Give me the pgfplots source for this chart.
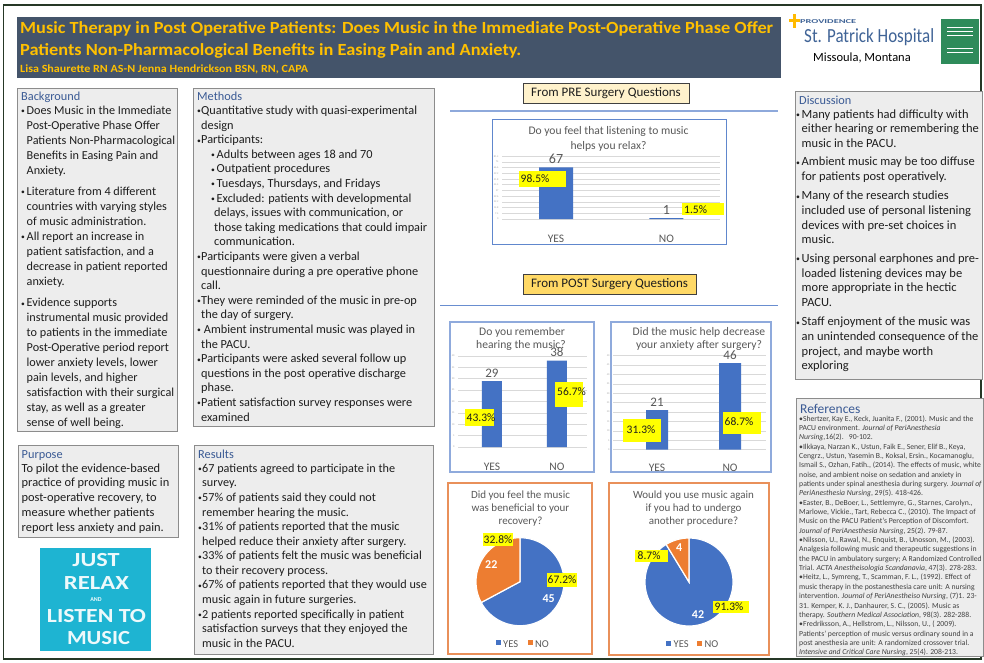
\documentclass[border=0pt]{standalone}
\usepackage{pgfplots}
\pgfplotsset{compat=1.18}
\usepackage{fontspec}
\setmainfont{Carlito}
\usepackage{graphicx}

\definecolor{banner}{HTML}{44546A}
\definecolor{titley}{HTML}{FFC000}
\definecolor{boxfill}{HTML}{EDEDED}
\definecolor{boxline}{HTML}{8C8C8C}
\definecolor{head}{HTML}{3A5A94}
\definecolor{xblue}{HTML}{4472C4}
\definecolor{xorange}{HTML}{ED7D31}
\definecolor{chartline}{HTML}{8FAADC}
\definecolor{pieline}{HTML}{E9905A}
\definecolor{gtext}{HTML}{595959}
\definecolor{gridc}{HTML}{D9D9D9}
\definecolor{txt}{HTML}{1E1E1E}
\definecolor{framec}{HTML}{263826}
\definecolor{hilite}{HTML}{FFFF00}
\definecolor{prebox}{HTML}{FFF2CC}
\definecolor{postbox}{HTML}{FFD966}
\definecolor{relax}{HTML}{1EB4D2}
\definecolor{stpat}{HTML}{3F6396}
\definecolor{logogreen}{HTML}{2E8B5A}
\definecolor{sepblue}{HTML}{8EA9DB}

\newcommand\fs[2]{\fontsize{#1}{#2}\selectfont}
\newcommand\bdot{\raisebox{0.6pt}{\scalebox{0.62}{•}}}
\newcommand\bl{\makebox[5.5pt][l]{\bdot}}
\newcommand\ii{\hspace*{5.5pt}}
\newcommand\mb{\makebox[4pt][l]{\bdot}}
\newcommand\mi{\hspace*{4pt}}
\newcommand\subb{\hspace*{14pt}\makebox[5.5pt][l]{\bdot}}
\newcommand\subi{\hspace*{17pt}}

% pie data
\pgfmathsetmacro\pAyes{45}\pgfmathsetmacro\pAno{22}
\pgfmathsetmacro\angAy{360*\pAyes/(\pAyes+\pAno)}
\pgfmathsetmacro\angAn{360*\pAno/(\pAyes+\pAno)}
\pgfmathsetmacro\pByes{42}\pgfmathsetmacro\pBno{4}
\pgfmathsetmacro\angBy{360*\pByes/(\pByes+\pBno)}
\pgfmathsetmacro\angBn{360*\pBno/(\pByes+\pBno)}

\pgfplotsset{
  mybars/.style={
    scale only axis, ybar, ymin=0, enlargelimits=false, clip=false,
    axis line style={draw=none}, major tick style={draw=none},
    ymajorgrids, grid style={draw=gridc, line width=0.7pt},
    xtick={0,1}, xticklabels={YES,NO},
    xticklabel style={font=\fs{11.5}{12}, text=gtext, anchor=center},
    yticklabel style={font=\fs{2.6}{3}, text=gray!70},
    /pgf/number format/assume math mode=true,
    nodes near coords,
    nodes near coords style={font=\fs{13}{13}, text=gtext},
  },
  mypie/.style={
    scale only axis, width=88pt, height=88pt, anchor=center,
    xmin=-1, xmax=1, ymin=-1, ymax=1, hide axis, clip=false,
  },
}

\begin{document}
\begin{tikzpicture}[x=1pt,y=1pt]
\path[use as bounding box] (0,0) rectangle (984,-662);
\fill[white] (0,0) rectangle (984,-662);
\draw[framec, line width=1.3pt] (3.5,-5) rectangle (981,-659);

% ---------- banner ----------
\fill[banner] (17,-17) rectangle (781,-78);
\node[anchor=base west, inner sep=0, text=titley, font=\bfseries\fs{17}{20}] at (20,-33)
  {\resizebox{753pt}{\height}{Music Therapy in Post Operative Patients: Does Music in the Immediate Post-Operative Phase Offer}};
\node[anchor=base west, inner sep=0, text=titley, font=\bfseries\fs{17}{20}] at (20,-55)
  {\resizebox{501pt}{\height}{Patients Non-Pharmacological Benefits in Easing Pain and Anxiety.}};
\node[anchor=base west, inner sep=0, text=titley, font=\bfseries\fs{11}{12}] at (20,-72)
  {\resizebox{288pt}{\height}{Lisa Shaurette RN AS-N Jenna Hendrickson BSN, RN, CAPA}};

% ---------- logo ----------
\fill[titley!90!orange] (789,-19) rectangle (800,-22);
\fill[titley!90!orange] (793,-14) rectangle (796,-28);
\node[anchor=base west, inner sep=0, text=stpat, font=\bfseries\fs{6}{6}] at (800,-23)
  {\resizebox{56pt}{\height}{PROVIDENCE}};
\node[anchor=base west, inner sep=0, text=stpat, font=\fs{20}{20}] at (804,-42)
  {\resizebox{130pt}{\height}{St. Patrick Hospital}};
\node[anchor=base, inner sep=0, text=black, font=\fs{12.5}{13}] at (862,-61) {Missoula, Montana};
\fill[logogreen] (941,-19) rectangle (979,-64);
\foreach \yy in {27,31,35,48,52}{\draw[white, line width=0.6pt] (947,-\yy) -- (973,-\yy);}

% ---------- text boxes ----------
\filldraw[fill=boxfill, draw=boxline, line width=0.8pt] (17,-88) rectangle (177,-431);
\filldraw[fill=boxfill, draw=boxline, line width=0.8pt] (193,-88) rectangle (434,-426);
\filldraw[fill=boxfill, draw=boxline, line width=0.8pt] (18,-445) rectangle (178,-537);
\filldraw[fill=boxfill, draw=boxline, line width=0.8pt] (194,-445) rectangle (433,-654);
\filldraw[fill=boxfill, draw=boxline, line width=0.8pt] (795,-91) rectangle (982.5,-379);
\filldraw[fill=boxfill, draw=boxline, line width=0.8pt] (796.5,-398) rectangle (983,-656);

% headings
\node[anchor=base west, inner sep=0, text=head, font=\fs{12.3}{13}] at (21,-100) {Background};
\node[anchor=base west, inner sep=0, text=head, font=\fs{12.3}{13}] at (197,-100) {Methods};
\node[anchor=base west, inner sep=0, text=head, font=\fs{12.3}{13}] at (21.5,-458) {Purpose};
\node[anchor=base west, inner sep=0, text=head, font=\fs{12.3}{13}] at (198,-458) {Results};
\node[anchor=base west, inner sep=0, text=head, font=\fs{12.3}{13}] at (799,-104) {Discussion};
\node[anchor=base west, inner sep=0, text=head, font=\fs{13.5}{14}] at (800,-413) {References};

% Background
\node[anchor=base west, inner sep=0, text=txt] at (21,-114) {\parbox[t]{300pt}{\fs{12.2}{15}\raggedright
\bl Does Music in the Immediate\\\ii Post-Operative Phase Offer\\\ii Patients Non-Pharmacological\\\ii Benefits in Easing Pain and\\\ii Anxiety.\\[6.5pt]
\bl Literature from 4 different\\\ii countries with varying styles\\\ii of music administration.\\
\bl All report an increase in\\\ii patient satisfaction, and a\\\ii decrease in patient reported\\\ii anxiety.\\[6.3pt]
\bl Evidence supports\\\ii instrumental music provided\\\ii to patients in the immediate\\\ii Post-Operative period report\\\ii lower anxiety levels, lower\\\ii pain levels, and higher\\\ii satisfaction with their surgical\\\ii stay, as well as a greater\\\ii sense of well being.}};

% Methods
\node[anchor=base west, inner sep=0, text=txt] at (197,-114.5) {\parbox[t]{300pt}{\fs{12.3}{14.6}\raggedright
\mb Quantitative study with quasi-experimental\\\mi design\\
\mb Participants:\\
\subb Adults between ages 18 and 70\\
\subb Outpatient procedures\\
\subb Tuesdays, Thursdays, and Fridays\\
\subb Excluded: patients with developmental\\\subi delays, issues with communication, or\\\subi those taking medications that could impair\\\subi communication.\\
\mb Participants were given a verbal\\\mi questionnaire during a pre operative phone\\\mi call.\\
\mb They were reminded of the music in pre-op\\\mi the day of surgery.\\
\mb\ Ambient instrumental music was played in\\\mi the PACU.\\
\mb Participants were asked several follow up\\\mi questions in the post operative discharge\\\mi phase.\\
\mb Patient satisfaction survey responses were\\\mi examined}};

% Purpose
\node[anchor=base west, inner sep=0, text=txt] at (21.5,-472) {\parbox[t]{300pt}{\fs{12.4}{14.75}\raggedright
To pilot the evidence-based\\practice of providing music in\\post-operative recovery, to\\measure whether patients\\report less anxiety and pain.}};

% Results
\node[anchor=base west, inner sep=0, text=txt] at (198,-472.3) {\parbox[t]{300pt}{\fs{12.2}{14.58}\raggedright
\mb 67 patients agreed to participate in the\\\mi survey.\\
\mb 57\% of patients said they could not\\\mi remember hearing the music.\\
\mb 31\% of patients reported that the music\\\mi helped reduce their anxiety after surgery.\\
\mb 33\% of patients felt the music was beneficial\\\mi to their recovery process.\\
\mb 67\% of patients reported that they would use\\\mi music again in future surgeries.\\
\mb 2 patients reported specifically in patient\\\mi satisfaction surveys that they enjoyed the\\\mi music in the PACU.}};

% Discussion
\node[anchor=base west, inner sep=0, text=txt] at (796,-118) {\parbox[t]{300pt}{\fs{12.5}{14.65}\raggedright
\bl Many patients had difficulty with\\\ii either hearing or remembering the\\\ii music in the PACU.\\[4pt]
\bl Ambient music may be too diffuse\\\ii for patients post operatively.\\[4.5pt]
\bl Many of the research studies\\\ii included use of personal listening\\\ii devices with pre-set choices in\\\ii music.\\[4pt]
\bl Using personal earphones and pre-\\\ii loaded listening devices may be\\\ii more appropriate in the hectic\\\ii PACU.\\[5pt]
\bl Staff enjoyment of the music was\\\ii an unintended consequence of the\\\ii project, and maybe worth\\\ii exploring}};

% References
\node[anchor=base west, inner sep=0, text=txt!85] at (799,-421) {\parbox[t]{300pt}{\fs{7.7}{9.35}\raggedright
•Shertzer, Kay E., Keck, Juanita F., (2001). Music and the\\
PACU environment. \textit{Journal of PeriAnesthesia}\\
\textit{Nursing},16(2).\ \ \ 90-102.\\
•Ilkkaya, Narzan K., Ustun, Faik E., Sener, Elif B., Keya,\\
Cengrz., Ustun, Yasemin B., Koksal, Ersin., Kocamanoglu,\\
Ismail S., Ozhan, Fatih., (2014). The effects of music, white\\
noise, and ambient noise on sedation and anxiety in\\
patients under spinal anesthesia during surgery. \textit{Journal of}\\
\textit{PeriAnesthesia Nursing}, 29(5). 418-426.\\
•Easter, B., DeBoer, L., Settlemyre, G., Starnes, Carolyn.,\\
Marlowe, Vickie., Tart, Rebecca C., (2010). The Impact of\\
Music on the PACU Patient's Perception of Discomfort.\\
\textit{Journal of PeriAnesthesia Nursing}, 25(2). 79-87.\\
•Nilsson, U., Rawal, N., Enquist, B., Unosson, M., (2003).\\
Analgesia following music and therapeutic suggestions in\\
the PACU in ambulatory surgery; A Randomized Controlled\\
Trial. \textit{ACTA Anestheisologia Scandanavia}, 47(3). 278-283.\\
•Heitz, L., Symreng, T., Scamman, F. L., (1992). Effect of\\
music therapy in the postanesthesia care unit: A nursing\\
intervention. \textit{Journal of PeriAnestheiso Nursing}, (7)1. 23-\\
31. Kemper, K. J., Danhaurer, S. C., (2005). Music as\\
therapy. \textit{Southern Medical Association}, 98(3). 282-288.\\
•Fredriksson, A., Hellstrom, L., Nilsson, U., ( 2009).\\
Patients' perception of music versus ordinary sound in a\\
post anesthesia are unit: A randomized crossover trial.\\
\textit{Intensive and Critical Care Nursing}, 25(4). 208-213.}};

% Just relax image
\fill[relax] (40,-548) rectangle (151,-651);
\begin{scope}[every node/.style={inner sep=0, text=white!92!relax, font=\bfseries\fs{20}{20}}]
\node[anchor=base] at (96,-566) {\resizebox{47pt}{\height}{JUST}};
\node[anchor=base] at (96.5,-589) {\resizebox{65pt}{\height}{RELAX}};
\node[anchor=base, font=\bfseries\fs{6}{6}] at (96,-601) {AND};
\node[anchor=base] at (96.5,-622) {\resizebox{99pt}{\height}{LISTEN TO}};
\node[anchor=base] at (98.5,-644) {\resizebox{63pt}{\height}{MUSIC}};
\end{scope}

% ---------- section labels ----------
\filldraw[fill=prebox, draw=black!75, line width=0.8pt] (523,-83) rectangle (689.5,-103);
\node[inner sep=0, text=txt, font=\fs{13}{13}] at (606,-93.5) {From PRE Surgery Questions};
\draw[sepblue, line width=1.3pt] (450,-111) -- (778,-111);
\filldraw[fill=postbox, draw=black!75, line width=0.8pt] (523,-274) rectangle (696,-294);
\node[inner sep=0, text=txt, font=\fs{13}{13}] at (609.5,-284) {From POST Surgery Questions};
\draw[xblue!80, line width=0.9pt] (440,-305) -- (778,-305);

% chart frames
\draw[xblue!85, line width=0.9pt] (492,-119.5) rectangle (726,-244);
\draw[chartline, line width=1.1pt] (450,-322) rectangle (594,-472);
\draw[chartline, line width=1.1pt] (611,-322) rectangle (771,-472);
\draw[pieline, line width=1.1pt] (448,-483) rectangle (592,-654);
\draw[pieline, line width=1.1pt] (609,-483) rectangle (769,-655);

% chart titles
\begin{scope}[every node/.style={inner sep=0, text=gtext, font=\fs{11.6}{12}, anchor=base}]
\node at (608.5,-134) {Do you feel that listening to music};
\node at (608.5,-149) {helps you relax?};
\node at (522,-335.5) {Do you remember};
\node at (521,-348.5) {hearing the music?};
\node at (699,-335) {Did the music help decrease};
\node at (699,-348) {your anxiety after surgery?};
\end{scope}
\begin{scope}[every node/.style={inner sep=0, text=gtext, font=\fs{11}{12}, anchor=base}]
\node at (520.5,-498) {Did you feel the music};
\node at (520.5,-511) {was beneficial to your};
\node at (520.5,-524) {recovery?};
\node at (693.5,-498) {Would you use music again};
\node at (693.5,-511) {if you had to undergo};
\node at (693.5,-524) {another procedure?};
\end{scope}

% ---------- bar chart 1 ----------
\begin{axis}[mybars, at={(502pt,-219pt)}, anchor=south west,
  width=218pt, height=62.7pt, xmin=-0.49, xmax=1.486, ymax=81.5, ytick distance=7.4,
  bar width=34pt, xticklabel style={yshift=-16pt}, nodes near coords style={font=\fs{14}{14}}]
\addplot[fill=xblue, draw=none] coordinates {(0,67) (1,1)};
\end{axis}
% ---------- bar chart 2 ----------
\begin{axis}[mybars, at={(458pt,-447pt)}, anchor=south west,
  width=129pt, height=91pt, xmin=-0.523, xmax=1.462, ymax=40, ytick distance=5,
  bar width=20pt, xticklabel style={yshift=-15.7pt}]
\addplot[fill=xblue, draw=none] coordinates {(0,29) (1,38)};
\end{axis}
% ---------- bar chart 3 ----------
\begin{axis}[mybars, at={(613pt,-449.7pt)}, anchor=south west,
  width=153pt, height=94pt, xmin=-0.603, xmax=1.493, ymax=50, ytick distance=5,
  bar width=22pt, xticklabel style={yshift=-13.8pt}]
\addplot[fill=xblue, draw=none] coordinates {(0,21) (1,46)};
\end{axis}

% ---------- pie 1 ----------
\begin{axis}[mypie, at={(520pt,-581.7pt)}]
\addplot[fill=xblue, draw=white, line width=1.2pt, domain=0:1, samples=90, variable=\t]
  ({cos(90-\angAy*\t)},{sin(90-\angAy*\t)}) -- (axis cs:0,0) -- cycle;
\addplot[fill=xorange, draw=white, line width=1.2pt, domain=0:1, samples=60, variable=\t]
  ({cos(90+\angAn*\t)},{sin(90+\angAn*\t)}) -- (axis cs:0,0) -- cycle;
\node[text=white, font=\bfseries\fs{12}{12}] at (axis cs:{0.76*cos(90-\angAy/2)},{0.76*sin(90-\angAy/2)}) {45};
\node[text=white, font=\bfseries\fs{12}{12}] at (axis cs:{0.76*cos(90+\angAn/2)},{0.76*sin(90+\angAn/2)}) {22};
\end{axis}
% ---------- pie 2 ----------
\begin{axis}[mypie, at={(689pt,-582pt)}]
\addplot[fill=xblue, draw=white, line width=1.2pt, domain=0:1, samples=100, variable=\t]
  ({cos(90-\angBy*\t)},{sin(90-\angBy*\t)}) -- (axis cs:0,0) -- cycle;
\addplot[fill=xorange, draw=white, line width=1.2pt, domain=0:1, samples=30, variable=\t]
  ({cos(90+\angBn*\t)},{sin(90+\angBn*\t)}) -- (axis cs:0,0) -- cycle;
\node[text=white, font=\bfseries\fs{12}{12}] at (axis cs:{0.76*cos(90-\angBy/2)},{0.76*sin(90-\angBy/2)}) {42};
\node[text=white, font=\bfseries\fs{12}{12}] at (axis cs:{0.82*cos(90+\angBn/2)},{0.82*sin(90+\angBn/2)}) {4};
\end{axis}

% pie legends
\begin{scope}[every node/.style={inner sep=0, text=gtext, font=\fs{10.5}{11}, anchor=base west}]
\fill[xblue] (496,-640) rectangle (501,-645);
\node at (503,-647) {YES};
\fill[xorange] (527.5,-640) rectangle (532.5,-645);
\node at (535,-647) {NO};
\fill[xblue] (666,-640.5) rectangle (671,-645.5);
\node at (673.5,-647.5) {YES};
\fill[xorange] (697,-640.5) rectangle (702,-645.5);
\node at (704.5,-647.5) {NO};
\end{scope}

% ---------- yellow percentage labels ----------
\begin{scope}[every node/.style={inner sep=0, text=txt, font=\fs{11.5}{12}, anchor=west}]
\fill[hilite] (519,-171) rectangle (566,-187);  \node at (520.5,-179) {98.5\%};
\fill[hilite] (682,-203) rectangle (724,-215);  \node at (684,-209.5) {1.5\%};
\fill[hilite] (465,-409) rectangle (494,-426);  \node at (466.5,-417.5) {43.3\%};
\fill[hilite] (555,-382) rectangle (583,-407);  \node at (557,-392) {56.7\%};
\fill[hilite] (623,-419) rectangle (661,-442);  \node at (626.5,-429.5) {31.3\%};
\fill[hilite] (723,-412) rectangle (761,-434);  \node at (724.5,-422) {68.7\%};
\fill[hilite] (483,-533) rectangle (513,-546);  \node at (483.5,-539.5) {32.8\%};
\fill[hilite] (547,-573) rectangle (577,-587);  \node at (547.5,-580) {67.2\%};
\fill[hilite] (635,-550) rectangle (668,-562);  \node at (637.5,-556) {8.7\%};
\fill[hilite] (713,-601) rectangle (749,-613);  \node at (714.5,-607) {91.3\%};
\end{scope}
\end{tikzpicture}
\end{document}
